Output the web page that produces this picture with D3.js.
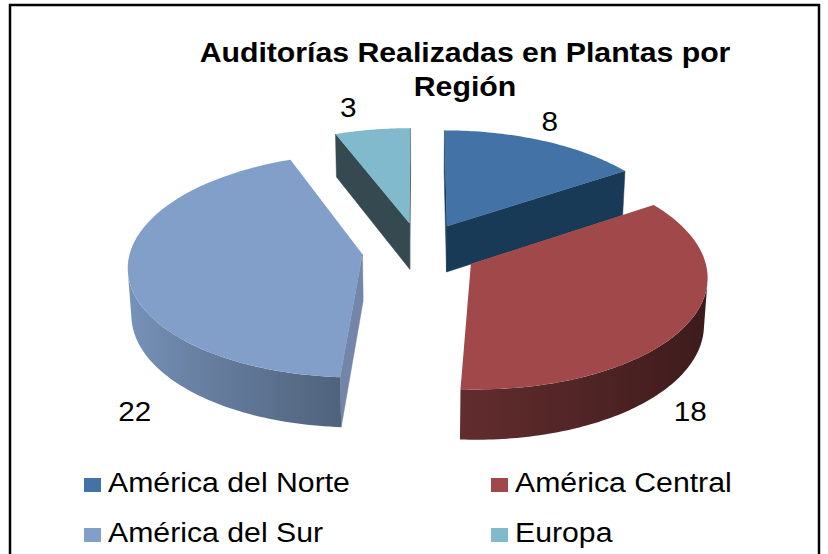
<!doctype html>
<html lang="es">
<head>
<meta charset="utf-8">
<title>Auditorías Realizadas en Plantas por Región</title>
<script src="https://cdn.jsdelivr.net/npm/d3@7"></script>
<style>
  body { margin: 0; background: #fff; }
  svg text { font-family: "Liberation Sans", Arial, sans-serif; fill: #000; }
</style>
</head>
<body>
<div id="chart"></div>
<script>
// datos
var regions = ["América del Norte", "América Central", "América del Sur", "Europa"];
var audits = [8, 18, 22, 3];
var titleLines = ["Auditorías Realizadas en Plantas por", "Región"];

// colores (cara superior y paredes planas)
var topColors = ["#4373a6", "#a0484a", "#819fc9", "#80bacc"];
var wallColors = ["#183a56", "#5b2024", "#7386aa", "#344a50"];

// donde van las etiquetas: angulo (grados) y radio desde el centro del sector
var labelAngle = [25, 133, 225, 346];
var labelRadius = [1.22, 1.17, 1.25, 1.28];
var labelOnBottom = [false, true, true, false];

var width = 828, height = 554;
var svg = d3.select("#chart").append("svg")
  .attr("width", width)
  .attr("height", height);
var defs = svg.append("defs");

svg.append("rect")
  .attr("x", 10).attr("y", 5)
  .attr("width", 809).attr("height", 560)
  .attr("fill", "#fff")
  .attr("stroke", "#000")
  .attr("stroke-width", 2.5);

// proyeccion 3D con perspectiva
var cx = 420, cy = 250, S = 232;
var tilt = 28.3 * Math.PI / 180, D = 8.8, thick = 0.23, explode = 0.25;
var cam = [0, D * Math.sin(tilt), D * Math.cos(tilt)];

function project(X, Y, Z) {
  var yv = Y * Math.cos(tilt) - Z * Math.sin(tilt);
  var zv = Y * Math.sin(tilt) + Z * Math.cos(tilt);
  var k = S / (1 - zv / D);
  return [cx + k * X, cy - k * yv];
}
function facing(n, p) {
  return n[0] * (cam[0] - p[0]) + n[1] * (cam[1] - p[1]) + n[2] * (cam[2] - p[2]) > 0;
}

var pie = d3.pie().sort(null).value(function(d) { return d; });
var slices = pie(audits).map(function(a, i) {
  var mid = (a.startAngle + a.endAngle) / 2;
  a.i = i;
  a.ox = explode * Math.sin(mid);
  a.oz = -explode * Math.cos(mid);
  return a;
});

function pt(s, theta, r, Y) {
  return [s.ox + r * Math.sin(theta), Y, s.oz - r * Math.cos(theta)];
}
function proj(p) { return project(p[0], p[1], p[2]); }

var line = d3.line();
var shade = d3.scaleLinear().domain([-1, 0, 1]).range([0.93, 0.6, 0.37]);
function darker(c, f) {
  var rgb = d3.rgb(c);
  return d3.rgb(rgb.r * f, rgb.g * f, rgb.b * f).formatHex();
}

var pieG = svg.append("g");
var order = slices.slice().sort(function(a, b) { return a.oz - b.oz; });

order.forEach(function(s) {
  var g = pieG.append("g");
  var a0 = s.startAngle, a1 = s.endAngle;
  var center = [s.ox, 0, s.oz];

  // paredes radiales
  [[a0, -1], [a1, 1]].forEach(function(w) {
    var th = w[0];
    var n = [w[1] * Math.cos(th), 0, w[1] * Math.sin(th)];
    if (!facing(n, center)) return;
    var quad = [pt(s, th, 0, 0), pt(s, th, 1, 0), pt(s, th, 1, -thick), pt(s, th, 0, -thick)].map(proj);
    g.append("path")
      .attr("d", line(quad) + "Z")
      .attr("fill", wallColors[s.i])
      .attr("stroke", wallColors[s.i])
      .attr("stroke-width", 0.5);
  });

  // pared exterior: solo la parte visible, con degradado horizontal
  var steps = 120, vis = [];
  for (var k = 0; k <= steps; k++) {
    var t = a0 + (a1 - a0) * k / steps;
    var n = [Math.sin(t), 0, -Math.cos(t)];
    if (facing(n, pt(s, t, 1, -thick / 2))) vis.push(t);
  }
  if (vis.length > 1) {
    var topPts = vis.map(function(t) { return proj(pt(s, t, 1, 0)); });
    var botPts = vis.map(function(t) { return proj(pt(s, t, 1, -thick)); }).reverse();
    var xs = topPts.map(function(p) { return p[0]; });
    var x0 = d3.min(xs), x1 = d3.max(xs);
    var gid = "wall" + s.i;
    var grad = defs.append("linearGradient")
      .attr("id", gid)
      .attr("gradientUnits", "userSpaceOnUse")
      .attr("x1", x0).attr("x2", x1).attr("y1", 0).attr("y2", 0);
    vis.map(function(t, j) { return { x: xs[j], t: t }; })
      .sort(function(a, b) { return a.x - b.x; })
      .forEach(function(d) {
        grad.append("stop")
          .attr("offset", (d.x - x0) / (x1 - x0))
          .attr("stop-color", darker(topColors[s.i], shade(Math.sin(d.t))));
      });
    g.append("path")
      .attr("d", line(topPts.concat(botPts)) + "Z")
      .attr("fill", "url(#" + gid + ")");
  }

  // cara superior
  var face = [proj(center)];
  d3.range(0, 61).forEach(function(k) {
    face.push(proj(pt(s, a0 + (a1 - a0) * k / 60, 1, 0)));
  });
  g.append("path")
    .attr("d", line(face) + "Z")
    .attr("fill", topColors[s.i]);
});

// etiquetas de valores
slices.forEach(function(s) {
  var th = labelAngle[s.i] * Math.PI / 180;
  var p = proj(pt(s, th, labelRadius[s.i], labelOnBottom[s.i] ? -thick : 0));
  svg.append("text")
    .attr("transform", "translate(" + p[0] + "," + p[1] + ") scale(1.1,1)")
    .attr("text-anchor", "middle")
    .attr("dy", "0.35em")
    .style("font-size", "27px")
    .text(audits[s.i]);
});

// titulo
titleLines.forEach(function(t, i) {
  svg.append("text")
    .attr("transform", "translate(465," + (62 + i * 34) + ") scale(1.08,1)")
    .attr("text-anchor", "middle")
    .style("font-size", "28px")
    .style("font-weight", "bold")
    .text(t);
});

// leyenda
var colX = [84, 491], rowY = [478, 528];
var legend = svg.append("g");
regions.forEach(function(r, i) {
  var x = colX[i % 2], y = rowY[Math.floor(i / 2)];
  legend.append("rect")
    .attr("x", x).attr("y", y)
    .attr("width", 17).attr("height", 14)
    .attr("fill", topColors[i]);
  legend.append("text")
    .attr("transform", "translate(" + (x + 24) + "," + (y + 14) + ") scale(1.12,1)")
    .style("font-size", "27px")
    .text(r);
});
</script>
</body>
</html>
